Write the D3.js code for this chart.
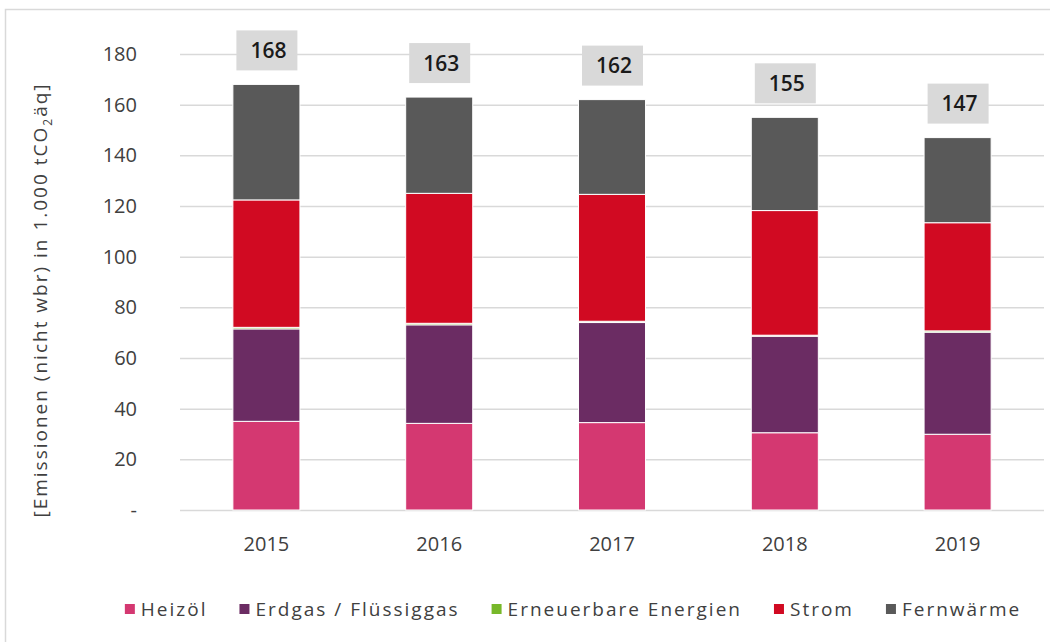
<!DOCTYPE html>
<html>
<head>
<meta charset="utf-8">
<script src="https://cdn.jsdelivr.net/npm/d3@7"></script>
<style>
  body { margin: 0; background: #fff; }
  text { font-family: "Open Sans", sans-serif; }
</style>
</head>
<body>
<div id="chart"></div>
<script>
// years and series (1.000 t CO2-Äquivalent)
var years = ["2015", "2016", "2017", "2018", "2019"];
var series = ["Heizöl", "Erdgas / Flüssiggas", "Erneuerbare Energien", "Strom", "Fernwärme"];
var heizoel = [35, 34.2, 34.5, 30.5, 29.9];
var erdgas = [36.5, 38.9, 39.5, 38.1, 40.3];
var erneuerbar = [0.6, 0.6, 0.5, 0.4, 0.5];
var strom = [50.3, 51.3, 50.1, 49.2, 42.7];
var fernwaerme = [45.6, 38, 37.4, 36.8, 33.6];
var totals = [168, 163, 162, 155, 147];
var yTicks = [0, 20, 40, 60, 80, 100, 120, 140, 160, 180];
var colors = ["#d43871", "#6b2c63", "#77b82a", "#d10a22", "#595959"];

var width = 1050, height = 642;
var margin = {top: 54, right: 6, bottom: 132, left: 180};

var svg = d3.select("#chart").append("svg")
    .attr("width", width)
    .attr("height", height);

// outer frame
svg.append("rect")
    .attr("x", 5.5).attr("y", 9.5)
    .attr("width", 1100).attr("height", 700)
    .attr("fill", "none")
    .attr("stroke", "#d9d9d9")
    .attr("stroke-width", 1.5);

var x = d3.scaleBand()
    .domain(years)
    .range([margin.left, width - margin.right])
    .paddingInner(0.612)
    .paddingOuter(0.306);

var y = d3.scaleLinear()
    .domain([0, 180])
    .range([height - margin.bottom, margin.top]);

// gridlines + y tick labels
var yAxis = d3.axisLeft(y)
    .tickValues(yTicks)
    .tickSize(-(width - margin.right - margin.left))
    .tickPadding(43)
    .tickFormat(function(d) { return d === 0 ? "-" : d; });

var gy = svg.append("g")
    .attr("transform", "translate(" + margin.left + ",0)")
    .call(yAxis);
gy.select(".domain").remove();
gy.selectAll(".tick line").attr("stroke", "#d9d9d9").attr("stroke-width", 1.5);
gy.selectAll(".tick text")
    .attr("fill", "#404040")
    .style("font-size", "20px")
    .style("font-family", "'Open Sans', sans-serif");

// x labels
var xAxis = d3.axisBottom(x).tickSize(0).tickPadding(27);
var gx = svg.append("g")
    .attr("transform", "translate(0," + (height - margin.bottom) + ")")
    .call(xAxis);
gx.select(".domain").remove();
gx.selectAll(".tick text")
    .attr("fill", "#404040")
    .style("font-size", "20px")
    .style("font-family", "'Open Sans', sans-serif");

// stack the data
var rows = years.map(function(yr, i) {
  var r = {year: yr};
  r[series[0]] = heizoel[i];
  r[series[1]] = erdgas[i];
  r[series[2]] = erneuerbar[i];
  r[series[3]] = strom[i];
  r[series[4]] = fernwaerme[i];
  return r;
});
var stacked = d3.stack().keys(series)(rows);

svg.append("g").selectAll("g")
    .data(stacked)
  .enter().append("g")
    .attr("fill", function(d, i) { return colors[i]; })
  .selectAll("rect")
    .data(function(d) { return d; })
  .enter().append("rect")
    .attr("x", function(d) { return x(d.data.year); })
    .attr("y", function(d) { return y(d[1]); })
    .attr("width", x.bandwidth())
    .attr("height", function(d) { return y(d[0]) - y(d[1]); })
    .attr("stroke", "#fff")
    .attr("stroke-width", 1);

// total labels in grey boxes
var lab = svg.append("g").selectAll("g")
    .data(years)
  .enter().append("g")
    .attr("transform", function(d, i) {
      return "translate(" + (x(d) + x.bandwidth() / 2) + "," + (y(totals[i]) - 34) + ")";
    });
lab.append("rect")
    .attr("x", -30).attr("y", -20)
    .attr("width", 61).attr("height", 40)
    .attr("fill", "#d9d9d9");
lab.append("text")
    .attr("x", 2)
    .attr("dy", "0.36em")
    .attr("text-anchor", "middle")
    .attr("fill", "#1a1a1a")
    .style("font-size", "21px")
    .style("font-weight", 600)
    .text(function(d, i) { return totals[i]; });

// y axis title
var yTitle = svg.append("text")
    .attr("transform", "translate(47,300) rotate(-90)")
    .attr("text-anchor", "middle")
    .attr("fill", "#404040")
    .style("font-size", "19px")
    .style("letter-spacing", "2px");
yTitle.append("tspan").text("[Emissionen (nicht wbr) in 1.000 tCO");
yTitle.append("tspan").attr("dy", 5).style("font-size", "12px").text("2");
yTitle.append("tspan").attr("dy", -5).text("äq]");

// legend
var legend = svg.append("g").attr("transform", "translate(0,609)");
var items = legend.selectAll("g")
    .data(series)
  .enter().append("g");
items.append("rect")
    .attr("y", -5).attr("width", 10).attr("height", 10)
    .attr("fill", function(d, i) { return colors[i]; });
items.append("text")
    .attr("x", 16)
    .attr("dy", "0.35em")
    .attr("fill", "#404040")
    .style("font-size", "19px")
    .style("letter-spacing", "2px")
    .text(function(d) { return d; });

var gap = 32, pos = 0, offsets = [];
items.each(function() {
  offsets.push(pos);
  pos += this.getBBox().width + gap;
});
var total = pos - gap;
var start = 573 - total / 2;
items.attr("transform", function(d, i) { return "translate(" + (start + offsets[i]) + ",0)"; });
</script>
</body>
</html>
